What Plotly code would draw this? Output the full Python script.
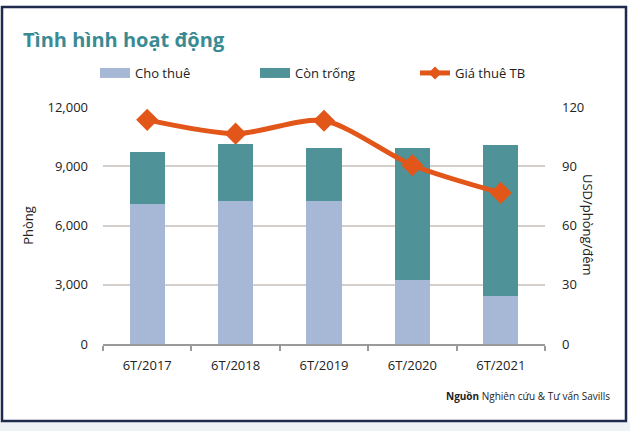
import plotly.graph_objects as go

categories = ["6T/2017", "6T/2018", "6T/2019", "6T/2020", "6T/2021"]
cho_thue = [7100, 7250, 7250, 3250, 2450]
con_trong = [2600, 2880, 2650, 6650, 7650]
gia_thue = [113.5, 106.5, 113, 90.5, 76.5]
left_ticks = [0, 3000, 6000, 9000, 12000]
left_labels = ["0", "3,000", "6,000", "9,000", "12,000"]
right_ticks = [0, 30, 60, 90, 120]

W, H = 630, 431
L, R, T, B = 103, 85, 107, 87
pw, ph = W - L - R, H - T - B

def px(x):
    return (x - L) / pw

def py(y):
    return (H - B - y) / ph

FONT = "Open Sans"
C_LIGHT = "#A7B7D6"
C_TEAL = "#4F9398"
C_ORANGE = "#E2561A"

fig = go.Figure()
fig.add_trace(go.Bar(x=categories, y=cho_thue, name="Cho thuê", showlegend=False,
                     marker=dict(color=C_LIGHT, line=dict(width=0)), width=0.4))
fig.add_trace(go.Bar(x=categories, y=con_trong, name="Còn trống", showlegend=False,
                     marker=dict(color=C_TEAL, line=dict(width=0)), width=0.4))
fig.add_trace(go.Scatter(x=categories, y=gia_thue, name="Giá thuê TB", yaxis="y2",
                         mode="lines+markers", showlegend=False,
                         line=dict(color=C_ORANGE, width=5, shape="spline", smoothing=0.8),
                         marker=dict(symbol="diamond", size=17, color=C_ORANGE)))
# legend entries (swatches styled like the reference)
fig.add_trace(go.Scatter(x=[None], y=[None], name="Cho thuê", mode="lines",
                         line=dict(color=C_LIGHT, width=10)))
fig.add_trace(go.Scatter(x=[None], y=[None], name="Còn trống", mode="lines",
                         line=dict(color=C_TEAL, width=10)))
fig.add_trace(go.Scatter(x=[None], y=[None], name="Giá thuê TB", mode="lines+markers",
                         line=dict(color=C_ORANGE, width=5),
                         marker=dict(symbol="diamond", size=10, color=C_ORANGE)))

fig.update_layout(
    width=W, height=H,
    margin=dict(l=L, r=R, t=T, b=B, autoexpand=False),
    paper_bgcolor="white", plot_bgcolor="white",
    barmode="stack",
    font=dict(family=FONT, size=13, color="#222222"),
    showlegend=True,
    legend=dict(orientation="h", x=px(95), y=py(73), xanchor="left", yanchor="middle",
                entrywidth=115, font=dict(size=13, color="#222222"),
                traceorder="normal", itemwidth=30, bgcolor="rgba(0,0,0,0)"),
    xaxis=dict(showgrid=False, showline=True, linecolor="#9A9A9A", linewidth=1.5,
               ticks="outside", ticklen=5, tickcolor="#9A9A9A", tickwidth=1.5,
               tickson="boundaries", ticklabelstandoff=9,
               tickfont=dict(size=13, color="#222222")),
    yaxis=dict(range=[0, 12000], tickvals=left_ticks, ticktext=left_labels,
               showgrid=True, gridcolor="#D4CFCB", gridwidth=1.5, zeroline=False,
               showline=False, ticks="", ticklabelstandoff=14,
               tickfont=dict(size=13, color="#222222"),
               title=dict(text="Phòng", font=dict(size=13, color="#222222"), standoff=10)),
    yaxis2=dict(range=[0, 120], tickvals=right_ticks, overlaying="y", side="right",
                showgrid=False, zeroline=False, showline=False, ticks="",
                ticklabelstandoff=16, tickfont=dict(size=13, color="#222222")),
)

fig.add_annotation(text="USD/phòng/đêm", xref="paper", yref="paper",
                   x=px(599), y=py(225), textangle=90, showarrow=False,
                   font=dict(size=13, color="#222222"))
fig.add_annotation(text="Tình hình hoạt động", xref="paper", yref="paper",
                   x=px(21), y=py(40), xanchor="left", yanchor="middle", showarrow=False,
                   font=dict(size=20, color="#3A8A94", family=FONT, weight="bold"))
fig.add_annotation(text="<b>Nguồn</b> Nghiên cứu & Tư vấn Savills", xref="paper", yref="paper",
                   x=px(612), y=py(396), xanchor="right", yanchor="middle", showarrow=False,
                   font=dict(size=10, color="#222222"))
fig.add_shape(type="rect", xref="paper", yref="paper",
              x0=px(0), x1=px(630), y0=py(422), y1=py(431),
              line=dict(width=0), fillcolor="#EEF1F6", layer="below")
fig.add_shape(type="rect", xref="paper", yref="paper",
              x0=px(2), x1=px(626), y0=py(7), y1=py(421),
              line=dict(color="#1F2A4D", width=2.5), fillcolor="rgba(0,0,0,0)", layer="below")

fig.write_html("out.html", config={"displayModeBar": False},
               post_script="document.body.style.margin='0';")
